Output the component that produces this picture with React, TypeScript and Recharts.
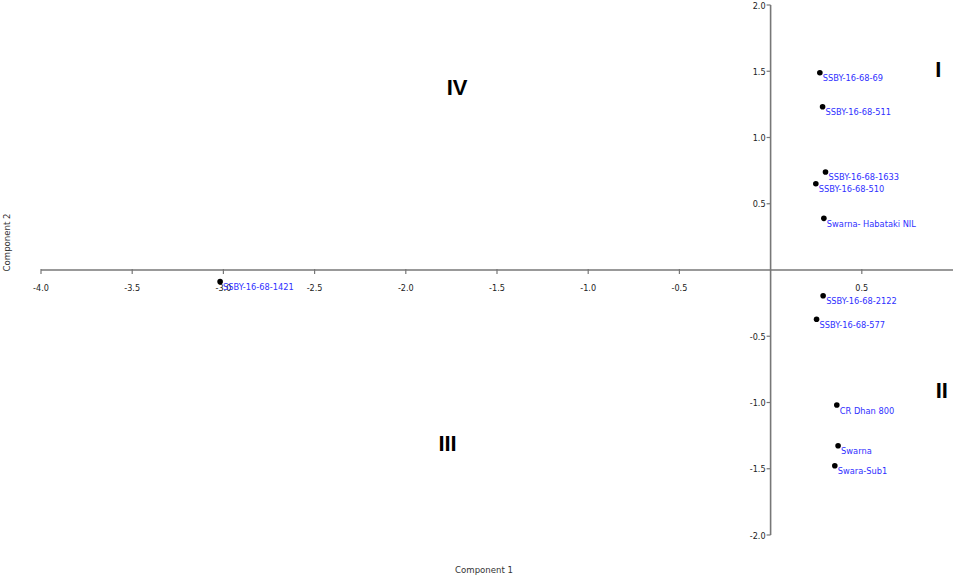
import { ScatterChart, Scatter, XAxis, YAxis, ReferenceLine, ReferenceDot } from "recharts";

const genotypes = [
  "SSBY-16-68-69",
  "SSBY-16-68-511",
  "SSBY-16-68-1633",
  "SSBY-16-68-510",
  "Swarna- Habataki NIL",
  "SSBY-16-68-2122",
  "SSBY-16-68-577",
  "CR Dhan 800",
  "Swarna",
  "Swara-Sub1",
  "SSBY-16-68-1421",
];
const comp1 = [0.27, 0.285, 0.301, 0.248, 0.292, 0.288, 0.252, 0.363, 0.37, 0.352, -3.018];
const comp2 = [1.489, 1.232, 0.74, 0.651, 0.39, -0.194, -0.372, -1.019, -1.326, -1.477, -0.088];

const xTicks = [-4.0, -3.5, -3.0, -2.5, -2.0, -1.5, -1.0, -0.5, 0.5];
const yTicks = [2.0, 1.5, 1.0, 0.5, -0.5, -1.0, -1.5, -2.0];

const quadrants = [
  { name: "I", x: 0.919, y: 1.517 },
  { name: "II", x: 0.939, y: -0.902 },
  { name: "III", x: -1.771, y: -1.306 },
  { name: "IV", x: -1.719, y: 1.381 },
];

const data = genotypes.map((name, i) => ({ name, x: comp1[i], y: comp2[i] }));

const narrow = "'Liberation Sans Narrow', 'DejaVu Sans Condensed', Arial, sans-serif";
const axisColor = "#777";

const PointShape = (props: any) => {
  const { cx, cy, payload } = props;
  return (
    <g>
      <circle cx={cx} cy={cy} r={2.8} fill="#000" />
      <text x={cx + 3} y={cy + 8.5} fontSize={9.2} fontFamily={narrow} fill="#2f2fff">
        {payload.name}
      </text>
    </g>
  );
};

const XTick = (props: any) => {
  const { cx, cy, label } = props;
  return (
    <g>
      <line x1={cx} x2={cx} y1={cy - 1} y2={cy + 4} stroke={axisColor} strokeWidth={1.2} />
      <text x={cx} y={cy + 20.5} textAnchor="middle" fontSize={9} fontFamily={narrow} fill="#222">
        {label}
      </text>
    </g>
  );
};

const YTick = (props: any) => {
  const { cx, cy, label } = props;
  return (
    <g>
      <line x1={cx - 4} x2={cx} y1={cy} y2={cy} stroke={axisColor} strokeWidth={1.2} />
      <text x={cx - 5} y={cy + 3.5} textAnchor="end" fontSize={9} fontFamily={narrow} fill="#222">
        {label}
      </text>
    </g>
  );
};

const QuadLabel = (props: any) => {
  const { cx, cy, label } = props;
  return (
    <text x={cx} y={cy + 8} textAnchor="middle" fontSize={22} fontWeight="bold" fontFamily="'Liberation Sans', Arial, sans-serif" fill="#000">
      {label}
    </text>
  );
};

export default function App() {
  return (
    <div style={{ position: "absolute", left: 0, top: 0, width: 957, height: 580, background: "#fff" }}>
      <ScatterChart width={957} height={580} margin={{ top: 5, right: 4, bottom: 45, left: 41 }}>
        <XAxis type="number" dataKey="x" domain={[-4, 1]} hide />
        <YAxis type="number" dataKey="y" domain={[-2, 2]} hide />
        <ReferenceLine y={0} stroke={axisColor} strokeWidth={1.6} />
        <ReferenceLine x={0} stroke={axisColor} strokeWidth={1.6} />
        {xTicks.map((t) => (
          <ReferenceDot
            key={"x" + t}
            x={t}
            y={0}
            ifOverflow="visible"
            shape={(p: any) => <XTick {...p} label={t.toFixed(1)} />}
          />
        ))}
        {yTicks.map((t) => (
          <ReferenceDot
            key={"y" + t}
            x={0}
            y={t}
            ifOverflow="visible"
            shape={(p: any) => <YTick {...p} label={t.toFixed(1)} />}
          />
        ))}
        {quadrants.map((q) => (
          <ReferenceDot
            key={q.name}
            x={q.x}
            y={q.y}
            ifOverflow="visible"
            shape={(p: any) => <QuadLabel {...p} label={q.name} />}
          />
        ))}
        <Scatter data={data} shape={PointShape} isAnimationActive={false} />
      </ScatterChart>
      <div
        style={{
          position: "absolute",
          left: 434,
          width: 100,
          top: 564,
          textAlign: "center",
          fontFamily: narrow,
          fontSize: 9.5,
          color: "#333",
        }}
      >
        Component 1
      </div>
      <div
        style={{
          position: "absolute",
          left: -44,
          top: 237,
          width: 100,
          textAlign: "center",
          transform: "rotate(-90deg)",
          fontFamily: narrow,
          fontSize: 9.5,
          color: "#333",
        }}
      >
        Component 2
      </div>
    </div>
  );
}
